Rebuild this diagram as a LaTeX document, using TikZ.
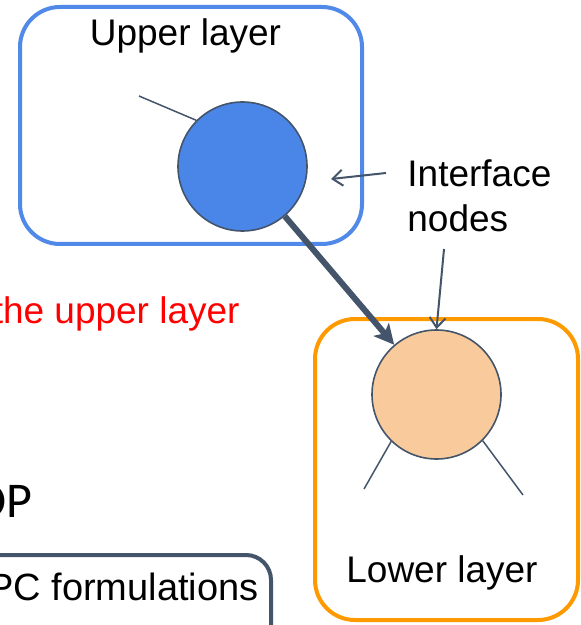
\documentclass[tikz,border=0pt]{standalone}
\usepackage{fontspec}
\setmainfont{Liberation Sans}
\newfontfamily\carlito{Carlito}
\usetikzlibrary{arrows.meta}

\definecolor{slate}{HTML}{44546A}
\definecolor{upperblue}{HTML}{5089E8}
\definecolor{nodeblue}{HTML}{4A86E8}
\definecolor{lowerorange}{HTML}{FF9900}
\definecolor{peach}{HTML}{F9CB9C}
\definecolor{alertred}{HTML}{FF0000}

\begin{document}
\begin{tikzpicture}[
  x=0.5pt, y=-0.5pt,
  layerbox/.style={draw, line width=2pt, rounded corners=20pt, inner sep=0pt},
  ifnode/.style={circle, draw=slate, line width=0.8pt, minimum size=64.5pt, inner sep=0pt},
  caption/.style={font=\fontsize{18.5}{22}\selectfont, inner sep=0pt},
  stub/.style={draw=slate, line width=0.75pt},
  pointer/.style={draw=slate, line width=1pt, -{Straight Barb[length=5pt,width=8pt]}},
  link/.style={draw=slate, line width=3pt, -{Stealth[length=10pt,width=10pt,inset=2.5pt]}}
]
\useasboundingbox (0,0) rectangle (581,625);
\clip (0,0) rectangle (581,625);

% layer frames
\node[layerbox, draw=upperblue, minimum width=171pt, minimum height=118.5pt] (upper) at (191,125.5) {};
\node[layerbox, draw=lowerorange, minimum width=131.5pt, minimum height=150.5pt] (lower) at (446.5,469.5) {};

% interface nodes
\node[ifnode, fill=nodeblue] (uc) at (242.5,166.5) {};
\node[ifnode, fill=peach] (lc) at (436.5,394.5) {};

% edges leaving the interface nodes
\coordinate (s1) at (139,96);
\coordinate (s2) at (364,489);
\coordinate (s3) at (523,495);
\draw[stub] (s1) -- (uc.135);
\draw[stub] (lc.226) -- (s2);
\draw[stub] (lc.315) -- (s3);

% coupling between the layers
\draw[link] (uc) -- (lc);

% pointers from the label
\coordinate (pA) at (386,173);
\coordinate (pAend) at (331,179);
\coordinate (pB) at (444,249);
\draw[pointer] (pA) -- (pAend);
\draw[pointer] (pB) -- (lc.north);

% labels
\node[caption, anchor=base] (uppertitle) at (185.5,46) {Upper layer};
\node[caption, anchor=base] (lowertitle) at (442,582) {Lower layer};
\node[caption, anchor=base west] (ifa) at (407,187) {Interface};
\node[caption, anchor=base west] (ifb) at (407,232) {nodes};
\node[caption, text=alertred, anchor=base east] (redtext) at (240,323) {the upper layer};
\node[font=\carlito\fontsize{25}{30}\selectfont, inner sep=0pt, anchor=base east] (optext) at (33,517) {OP};

% formulation box
\draw[slate, line width=2pt, rounded corners=12.5pt] (-20,555) -- (271,555) -- (271,660);
\node[font=\fontsize{19}{23}\selectfont, inner sep=0pt, anchor=base east] (formtext) at (259,600) {MPC formulations};
\end{tikzpicture}
\end{document}
